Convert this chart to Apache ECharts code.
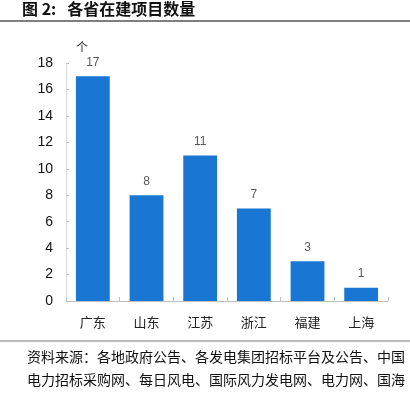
<!DOCTYPE html>
<html><head><meta charset="utf-8">
<script src="https://cdn.jsdelivr.net/npm/echarts@6/dist/echarts.min.js"></script>
<style>html,body{margin:0;padding:0;background:#fff}#c{width:410px;height:393px}</style>
</head><body><div id="c"></div>
<script>
const categories = ['广东','山东','江苏','浙江','福建','上海'];
const values = [17, 8, 11, 7, 3, 1];
const titleText = '图 2:   各省在建项目数量';
const unitText = '个';
const sourceLines = ['资料来源：各地政府公告、各发电集团招标平台及公告、中国', '电力招标采购网、每日风电、国际风力发电网、电力网、国海'];

const chart = echarts.init(document.getElementById('c'), null, {renderer:'canvas'});
const cjk = '"Noto Sans CJK SC", sans-serif';
chart.setOption({
  animation:false,
  grid:{left:66, right:22, top:63, bottom:92, containLabel:false},
  xAxis:{type:'category', data:categories,
    axisLine:{lineStyle:{color:'#bfbfbf', width:1}},
    axisTick:{show:true, inside:true, length:4, lineStyle:{color:'#bfbfbf'}},
    axisLabel:{color:'#222', fontFamily:cjk, fontSize:13, margin:15}},
  yAxis:{type:'value', min:0, max:18, interval:2,
    name:unitText, nameLocation:'end', nameGap:10,
    nameTextStyle:{color:'#333', fontFamily:cjk, fontSize:12, align:'left', padding:[0,0,0,10]},
    axisLine:{show:true, lineStyle:{color:'#d9d9d9'}},
    axisTick:{show:true, inside:true, length:3, lineStyle:{color:'#bfbfbf'}},
    splitLine:{show:false},
    axisLabel:{color:'#111', fontFamily:'"Liberation Sans", Arial, sans-serif', fontSize:14, margin:13}},
  series:[{type:'bar', data:values, barWidth:'63%',
    itemStyle:{color:'#1976D2'},
    label:{show:true, position:'top', distance:8, color:'#595959', fontFamily:'"Liberation Sans", Arial, sans-serif', fontSize:12}}],
  graphic:[
    {type:'text', left:22, top:1, style:{text:titleText, font:'bold 16px "Noto Sans CJK SC", sans-serif', fill:'#111'}},
    {type:'line', shape:{x1:0,y1:21,x2:410,y2:21}, style:{stroke:'#555', lineWidth:1.5}},
    {type:'line', shape:{x1:0,y1:341,x2:410,y2:341}, style:{stroke:'#777', lineWidth:1}},
    {type:'text', left:27, top:350, style:{text:sourceLines[0], font:'14px "Noto Sans CJK SC", sans-serif', fill:'#111'}},
    {type:'text', left:27, top:373, style:{text:sourceLines[1], font:'14px "Noto Sans CJK SC", sans-serif', fill:'#111'}}
  ]
});
</script></body></html>
